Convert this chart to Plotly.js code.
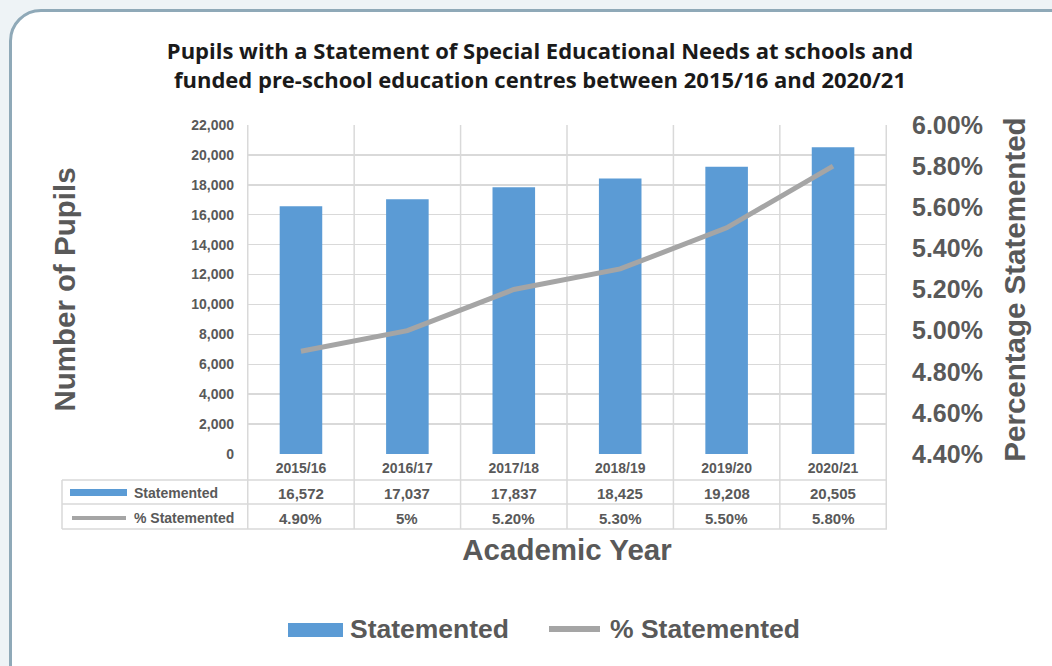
<!DOCTYPE html>
<html>
<head>
<meta charset="utf-8">
<script src="https://cdn.plot.ly/plotly-3.0.1.min.js"></script>
<style>
  html, body { margin: 0; padding: 0; background: #eef3f6; overflow: hidden; }
  #frame { position: absolute; left: 9px; top: 9px; width: 1120px; height: 720px;
           border: 3px solid #8fa9b8; border-radius: 32px; background: #ffffff; }
  #chart { position: absolute; left: 0; top: 0; width: 1052px; height: 666px; }
</style>
</head>
<body>
<div id="frame"></div>
<div id="chart"></div>
<script>
// ---- Data ----
const categories = ['2015/16', '2016/17', '2017/18', '2018/19', '2019/20', '2020/21'];
const statemented = [16572, 17037, 17837, 18425, 19208, 20505];
const pctStatemented = [4.9, 5.0, 5.2, 5.3, 5.5, 5.8];
const pctLabels = ['4.90%', '5%', '5.20%', '5.30%', '5.50%', '5.80%'];
const seriesNames = ['Statemented', '% Statemented'];
const chartTitle = 'Pupils with a Statement of Special Educational Needs at schools and<br>funded pre-school education centres between 2015/16 and 2020/21';

// ---- Geometry / style ----
const W = 1052, H = 666, L = 247, R = 165, T = 125, B = 212;
const PW = W - L - R, PH = H - T - B, BASE = H - B;
const px = x => (x - L) / PW;
const py = y => (BASE - y) / PH;
const BLUE = '#5b9bd5', GREY = '#a5a5a5', TXT = '#595959', GRID = '#d9d9d9';
const FONT = 'Liberation Sans, Arial, sans-serif';
const bold = (size, color) => ({ family: FONT, size: size, color: color || TXT, weight: 700 });

const traces = [
  { type: 'bar', name: seriesNames[0], x: categories, y: statemented,
    marker: { color: BLUE }, width: 0.4, showlegend: false, hoverinfo: 'x+y' },
  { type: 'scatter', mode: 'lines', name: seriesNames[1], x: categories, y: pctStatemented,
    yaxis: 'y2', line: { color: GREY, width: 5 }, showlegend: false }
];

const shapes = [];
const annotations = [];
const lineStyle = { color: GRID, width: 1.5 };

// vertical boundaries through plot + table
for (let i = 0; i <= categories.length; i++) {
  shapes.push({ type: 'line', xref: 'x', yref: 'paper', x0: i - 0.5, x1: i - 0.5,
    y0: 1, y1: py(529), line: lineStyle, layer: 'below' });
}
// table horizontal lines
[480, 504, 529].forEach(yy => shapes.push({ type: 'line', xref: 'paper', yref: 'paper',
  x0: px(62), x1: 1, y0: py(yy), y1: py(yy), line: lineStyle, layer: 'below' }));
shapes.push({ type: 'line', xref: 'paper', yref: 'paper', x0: px(62), x1: px(62),
  y0: py(480), y1: py(529), line: lineStyle, layer: 'below' });

// table values
categories.forEach((c, i) => {
  annotations.push({ xref: 'x', yref: 'paper', x: c, y: py(493), text: statemented[i].toLocaleString('en-GB'),
    showarrow: false, font: bold(15), xanchor: 'center', yanchor: 'middle' });
  annotations.push({ xref: 'x', yref: 'paper', x: c, y: py(518), text: pctLabels[i],
    showarrow: false, font: bold(15), xanchor: 'center', yanchor: 'middle' });
});

// table row header keys
shapes.push({ type: 'rect', xref: 'paper', yref: 'paper', x0: px(70), x1: px(127),
  y0: py(496), y1: py(489), fillcolor: BLUE, line: { width: 0 } });
shapes.push({ type: 'line', xref: 'paper', yref: 'paper', x0: px(72), x1: px(126),
  y0: py(518), y1: py(518), line: { color: GREY, width: 4 } });
annotations.push({ xref: 'paper', yref: 'paper', x: px(132), y: py(493), text: seriesNames[0],
  showarrow: false, font: bold(14), xanchor: 'left', yanchor: 'middle' });
annotations.push({ xref: 'paper', yref: 'paper', x: px(132), y: py(518), text: seriesNames[1],
  showarrow: false, font: bold(14), xanchor: 'left', yanchor: 'middle' });

// bottom legend
shapes.push({ type: 'rect', xref: 'paper', yref: 'paper', x0: px(288), x1: px(343),
  y0: py(637), y1: py(623), fillcolor: BLUE, line: { width: 0 } });
shapes.push({ type: 'line', xref: 'paper', yref: 'paper', x0: px(549), x1: px(600),
  y0: py(629), y1: py(629), line: { color: GREY, width: 6 } });
annotations.push({ xref: 'paper', yref: 'paper', x: px(348), y: py(629), text: seriesNames[0],
  showarrow: false, font: bold(26.5), xanchor: 'left', yanchor: 'middle' });
annotations.push({ xref: 'paper', yref: 'paper', x: px(608), y: py(629), text: seriesNames[1],
  showarrow: false, font: bold(26.5), xanchor: 'left', yanchor: 'middle' });

const layout = {
  width: W, height: H,
  margin: { l: L, r: R, t: T, b: B, pad: 0 },
  paper_bgcolor: 'rgba(0,0,0,0)', plot_bgcolor: 'rgba(0,0,0,0)',
  title: { text: chartTitle, xref: 'container', yref: 'container', x: 540 / W, y: 1 - 59 / H,
    xanchor: 'center', yanchor: 'middle',
    font: { family: 'Open Sans, sans-serif', size: 22, color: '#1a1a1a', weight: 700 } },
  showlegend: false,
  bargap: 0.6,
  xaxis: { type: 'category', showgrid: false, showline: false, zeroline: false, ticks: '',
    tickfont: bold(14), ticklabelstandoff: 4,
    title: { text: 'Academic Year', font: bold(29.5), standoff: 64 } },
  yaxis: { range: [0, 22000], dtick: 2000, tickformat: ',d', showgrid: true, gridcolor: GRID, gridwidth: 1.5,
    zeroline: false, showline: false, ticks: '', tickfont: bold(14), ticklabelstandoff: 12,
    title: { text: 'Number of Pupils', font: bold(29.5), standoff: 106 } },
  yaxis2: { overlaying: 'y', side: 'right', range: [4.4, 6.0], dtick: 0.2, tickformat: '.2f', ticksuffix: '%',
    showgrid: false, zeroline: false, showline: false, ticks: '', tickfont: bold(25), ticklabelstandoff: 24,
    title: { text: 'Percentage Statemented', font: bold(29.5), standoff: 22 } },
  shapes: shapes,
  annotations: annotations
};

Plotly.newPlot('chart', traces, layout, { displayModeBar: false, staticPlot: true });
</script>
</body>
</html>
